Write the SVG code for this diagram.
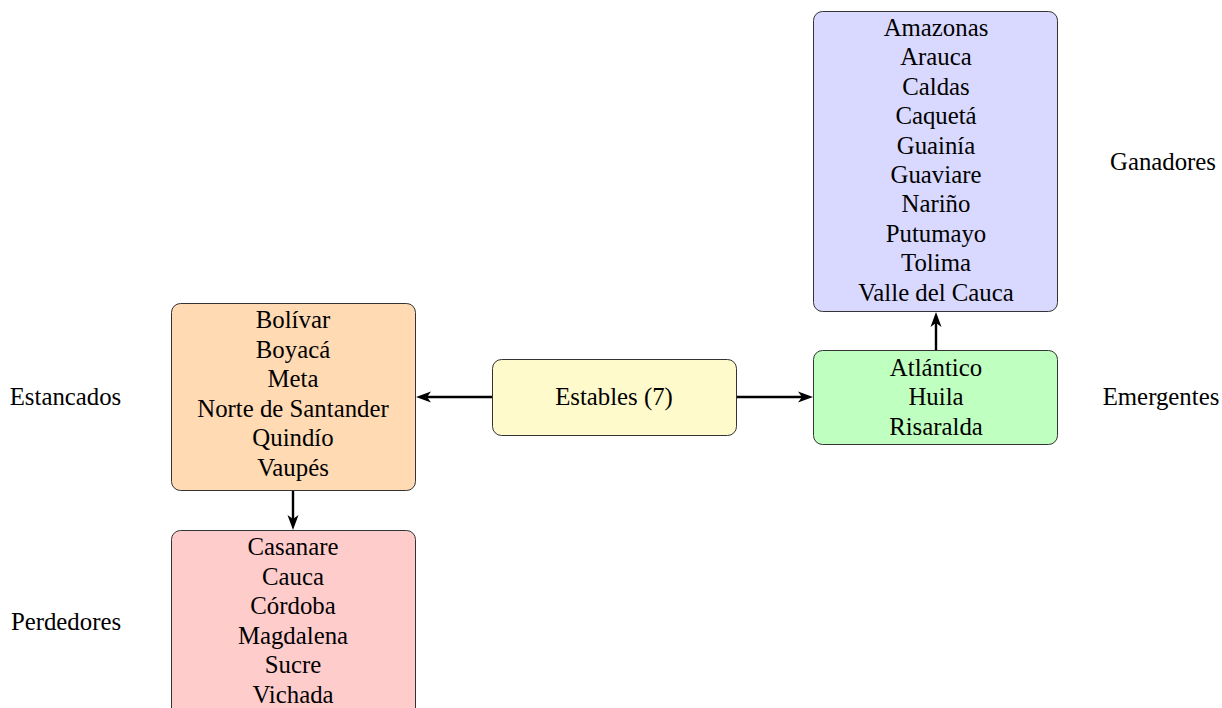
<svg xmlns="http://www.w3.org/2000/svg" width="1222" height="708" viewBox="0 0 1222 708">
<defs>
<style>
text{font-family:"Liberation Serif","Times New Roman",serif;font-size:24.8px;fill:#000;text-anchor:middle}
.box{stroke:#333;stroke-width:1}
.conn{stroke:#000;stroke-width:2.4;fill:none}
.head{fill:#000}
</style>
</defs>
<rect width="1222" height="708" fill="#fff"/>
<g id="connectors">
<path d="M492,397 L424,397" class="conn"/>
<path class="head" d="M416,397 l15,-5.5 l-4,5.5 l4,5.5 z"/>
<path d="M737,397 L805,397" class="conn"/>
<path class="head" d="M813,397 l-15,-5.5 l4,5.5 l-4,5.5 z"/>
<path d="M293,491 L293,522" class="conn"/>
<path class="head" d="M293,530 l-5.5,-15 l5.5,4 l5.5,-4 z"/>
<path d="M936,350 L936,320" class="conn"/>
<path class="head" d="M936,312 l-5.5,15 l5.5,-4 l5.5,4 z"/>
</g>
<g id="estancados">
<rect class="box" x="171.5" y="303.5" width="244" height="187" rx="9" fill="#FFDAB3"/>
<text x="293" y="328">Bolívar</text>
<text x="293" y="357.5">Boyacá</text>
<text x="293" y="387">Meta</text>
<text x="293" y="416.5">Norte de Santander</text>
<text x="293" y="446">Quindío</text>
<text x="293" y="475.5">Vaupés</text>
</g>
<g id="perdedores">
<rect class="box" x="171.5" y="530.5" width="244" height="190" rx="9" fill="#FFCCCC"/>
<text x="293" y="555">Casanare</text>
<text x="293" y="584.5">Cauca</text>
<text x="293" y="614">Córdoba</text>
<text x="293" y="643.5">Magdalena</text>
<text x="293" y="673">Sucre</text>
<text x="293" y="702.5">Vichada</text>
</g>
<g id="estables">
<rect class="box" x="492.5" y="359.5" width="244" height="76" rx="9" fill="#FFFACC"/>
<text x="614" y="405">Estables (7)</text>
</g>
<g id="emergentes">
<rect class="box" x="813.5" y="350.5" width="244" height="94" rx="9" fill="#BFFFBF"/>
<text x="936" y="375.5">Atlántico</text>
<text x="936" y="405">Huila</text>
<text x="936" y="434.5">Risaralda</text>
</g>
<g id="ganadores">
<rect class="box" x="813.5" y="11.5" width="244" height="300" rx="9" fill="#D9D9FF"/>
<text x="936" y="36">Amazonas</text>
<text x="936" y="65.4">Arauca</text>
<text x="936" y="94.8">Caldas</text>
<text x="936" y="124.2">Caquetá</text>
<text x="936" y="153.6">Guainía</text>
<text x="936" y="183">Guaviare</text>
<text x="936" y="212.4">Nariño</text>
<text x="936" y="241.8">Putumayo</text>
<text x="936" y="271.2">Tolima</text>
<text x="936" y="300.6">Valle del Cauca</text>
</g>
<g id="labels">
<text x="65.5" y="405">Estancados</text>
<text x="66" y="630">Perdedores</text>
<text x="1163" y="170">Ganadores</text>
<text x="1161" y="405">Emergentes</text>
</g>
</svg>
